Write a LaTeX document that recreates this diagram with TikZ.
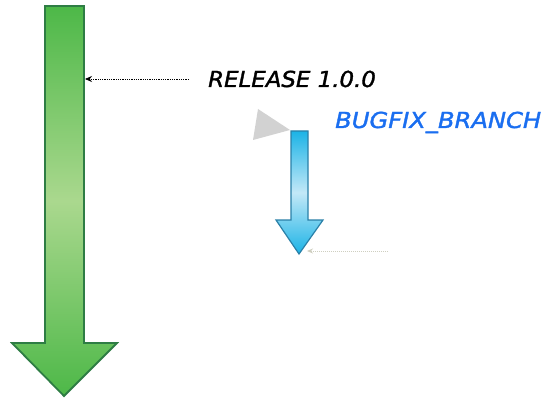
\documentclass[tikz,border=0pt]{standalone}
\usepackage{fontspec}
\setmainfont{DejaVu Sans}
\usetikzlibrary{arrows.meta}
\definecolor{gdark}{HTML}{4DB848}
\definecolor{glight}{HTML}{AAD88E}
\definecolor{gborder}{HTML}{2E7D44}
\definecolor{bdark}{HTML}{1BB3E6}
\definecolor{blight}{HTML}{C2E8F7}
\definecolor{bborder}{HTML}{2A80A8}
\definecolor{bugblue}{HTML}{1A6EF0}
\definecolor{faint}{HTML}{CFCFC0}
\tikzset{
  lbl/.style={anchor=base west, inner sep=0pt, font=\fontsize{22}{26}\selectfont\addfontfeatures{FakeBold=1.5}\itshape},
  conn/.style={densely dotted, line width=0.8pt, -{Stealth[length=7pt,width=6pt]}},
}
\begin{document}
\begin{tikzpicture}[x=1pt,y=-1pt]
\useasboundingbox (0,0) rectangle (548,398);
% green main arrow
\shadedraw[top color=gdark, bottom color=gdark, middle color=glight, draw=gborder, line width=1.8pt, line join=miter]
  (45,6) -- (84,6) -- (84,343) -- (117,343) -- (64,396) -- (12,343) -- (45,343) -- cycle;
\coordinate (gmain) at (85,79);
% release label
\node[lbl] (rel) at (208,87) {\scalebox{1.04}[1]{RELEASE 1.0.0}};
\coordinate (relstart) at (189,79);
\draw[conn] (relstart) -- (gmain);
% gray triangle
\fill[gray!35] (253,140) -- (258,109) -- (290,130) -- cycle;
% bugfix label
\node[lbl, text=bugblue] (bug) at (335,128) {\scalebox{1.1}[1]{BUGFIX\_BRANCH}};
% blue arrow
\shadedraw[top color=bdark, bottom color=bdark, middle color=blight, draw=bborder, line width=1.2pt, line join=miter]
  (291,131) -- (308,131) -- (308,220) -- (323,220) -- (299,254) -- (276,220) -- (291,220) -- cycle;
\coordinate (bluetip) at (307,251);
\coordinate (faintstart) at (388,251);
\draw[densely dotted, line width=1pt, faint, -{Stealth[length=6pt,width=5pt]}] (faintstart) -- (bluetip);
\end{tikzpicture}
\end{document}
